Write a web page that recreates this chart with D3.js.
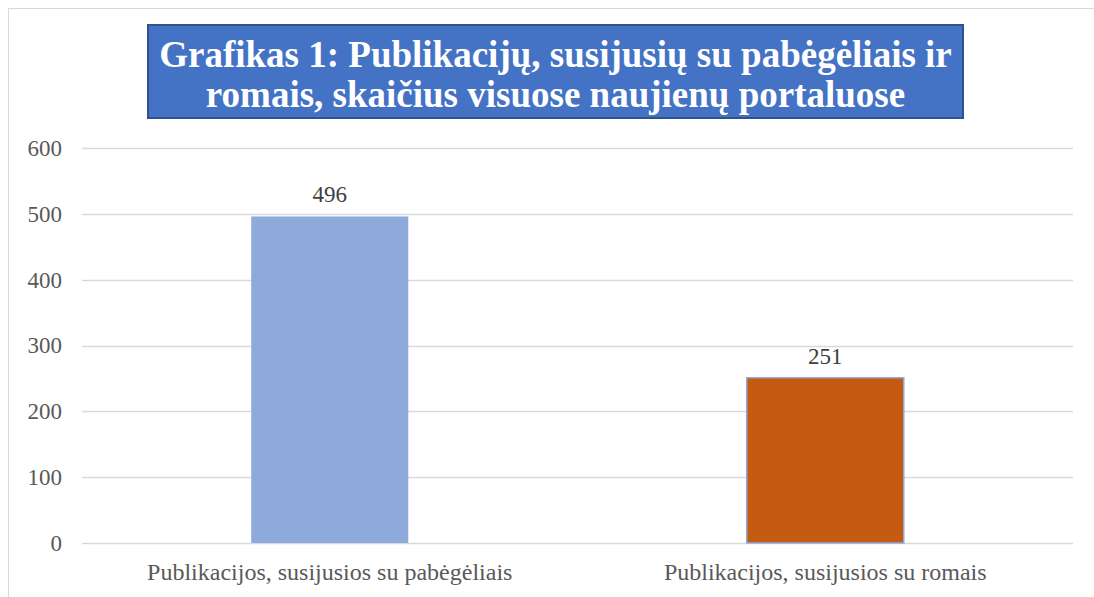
<!DOCTYPE html>
<html>
<head>
<meta charset="utf-8">
<script src="https://cdn.jsdelivr.net/npm/d3@7"></script>
<style>
  body { margin: 0; background: #fff; }
  svg text { font-family: "Liberation Serif", "Times New Roman", serif !important; }
</style>
</head>
<body>
<div id="chart"></div>
<script>
const categories = ["Publikacijos, susijusios su pabėgėliais", "Publikacijos, susijusios su romais"];
const values = [496, 251];
const barColors = ["#8eaadb", "#c55a11"];
const yTicks = [0, 100, 200, 300, 400, 500, 600];
const titleLines = ["Grafikas 1: Publikacijų, susijusių su pabėgėliais ir", "romais, skaičius visuose naujienų portaluose"];

const W = 1094, H = 597;
const margin = { top: 148, right: 21, bottom: 54, left: 82 };
const width = W - margin.left - margin.right;
const height = H - margin.top - margin.bottom;

const root = d3.select("#chart").append("svg")
    .attr("width", W)
    .attr("height", H);

// outer chart border (only top/left visible in frame)
root.append("rect")
    .attr("x", 8.5).attr("y", 8.5)
    .attr("width", W + 20).attr("height", H + 20)
    .attr("fill", "none")
    .attr("stroke", "#d9d9d9");

const svg = root.append("g")
    .attr("transform", `translate(${margin.left},${margin.top})`);

const x = d3.scaleBand()
    .domain(categories)
    .range([0, width])
    .paddingInner(0.683)
    .paddingOuter(0.3415);

const y = d3.scaleLinear()
    .domain([0, 600])
    .range([height, 0]);

// gridlines
svg.append("g")
    .selectAll("line")
    .data(yTicks)
    .join("line")
    .attr("x1", 0).attr("x2", width)
    .attr("y1", d => Math.round(y(d)) + 0.5)
    .attr("y2", d => Math.round(y(d)) + 0.5)
    .attr("stroke", "#d9d9d9")
    .attr("stroke-width", 1.3);

// y axis labels
const yAxis = svg.append("g")
    .call(d3.axisLeft(y).tickValues(yTicks).tickSize(0).tickPadding(20));
yAxis.select(".domain").remove();
yAxis.selectAll("text")
    .attr("fill", "#595959")
    .style("font-size", "23px");

// bars
svg.selectAll(".bar")
    .data(values)
    .join("rect")
    .attr("class", "bar")
    .attr("x", (d, i) => x(categories[i]))
    .attr("y", d => y(d))
    .attr("width", x.bandwidth())
    .attr("height", d => height - y(d))
    .attr("fill", (d, i) => barColors[i])
    .attr("stroke", (d, i) => i === 1 ? "#8faadc" : "none")
    .attr("stroke-width", 1.5);

// value labels
svg.selectAll(".val")
    .data(values)
    .join("text")
    .attr("class", "val")
    .attr("x", (d, i) => x(categories[i]) + x.bandwidth() / 2)
    .attr("y", d => y(d) - 14)
    .attr("text-anchor", "middle")
    .attr("fill", "#404040")
    .style("font-size", "23px")
    .text(d => d);

// x axis labels
const xAxis = svg.append("g")
    .attr("transform", `translate(0,${height})`)
    .call(d3.axisBottom(x).tickSize(0).tickPadding(20));
xAxis.select(".domain").remove();
xAxis.selectAll("text")
    .attr("fill", "#595959")
    .style("font-size", "24px");

// title box
root.append("rect")
    .attr("x", 148).attr("y", 25)
    .attr("width", 815).attr("height", 93)
    .attr("fill", "#4472c4")
    .attr("stroke", "#2f528f")
    .attr("stroke-width", 2);

root.append("g")
    .selectAll("text")
    .data(titleLines)
    .join("text")
    .attr("x", 555.5)
    .attr("y", (d, i) => 67 + i * 40)
    .attr("text-anchor", "middle")
    .attr("fill", "#fff")
    .style("font-size", "37px")
    .style("font-weight", "bold")
    .text(d => d);
</script>
</body>
</html>
